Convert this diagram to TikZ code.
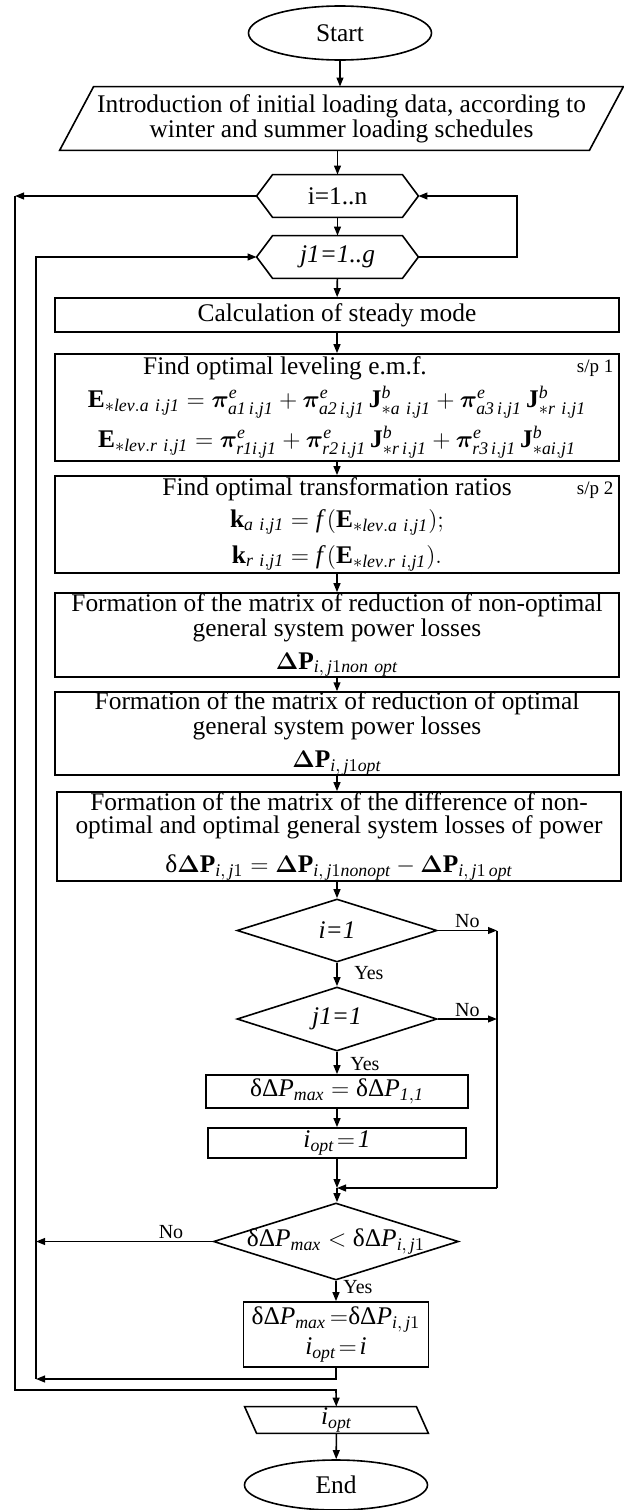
\documentclass[tikz,border=0pt]{standalone}
\usepackage{amsmath}
\usepackage{bm}
\usepackage{fontspec}
\setmainfont{Liberation Serif}
\usetikzlibrary{shapes.geometric,arrows.meta,calc}
\tikzset{
  flow/.style={line width=0.8pt},
  flowarrow/.style={flow, -{Triangle[length=4.5pt,width=3.4pt]}},
  txt/.style={font=\fontsize{12.7}{11.3}\selectfont},
  blank/.style={txt, align=center, inner sep=0pt},
  block/.style={draw, flow, txt, align=center, inner sep=0pt},
  terminal/.style={draw, flow, ellipse, txt, inner sep=0pt, minimum width=91.5pt, minimum height=27pt},
  decision/.style={draw, flow, diamond, txt, inner sep=0pt, aspect=3.2},
  answer/.style={font=\fontsize{10}{12}\selectfont, inner sep=1pt},
  splabel/.style={font=\fontsize{9.5}{11}\selectfont, inner sep=3pt}
}
\def\loopnode(#1,#2,#3,#4){
  \node[blank, minimum width=80.5pt, minimum height=21pt] (#1) at (#2,#3) {#4};
  \draw[flow] (#1.west) -- ([xshift=8pt]#1.north west) -- ([xshift=-8pt]#1.north east)
    -- (#1.east) -- ([xshift=-8pt]#1.south east) -- ([xshift=8pt]#1.south west) -- cycle;
}
\def\datanode(#1,#2,#3,#4,#5,#6,#7){
  \node[blank, minimum width=#4, minimum height=#5] (#1) at (#2,#3) {#7};
  \draw[flow] (#1.south west) -- ([xshift=#6]#1.north west) -- (#1.north east)
    -- ([xshift=-#6]#1.south east) -- cycle;
}
\def\dP{\text{δΔ}\mathit{P}}
\begin{document}
\begin{tikzpicture}[x=0.5pt, y=-0.5pt]
\useasboundingbox (0,0) rectangle (624,1510);
\node[terminal] (start) at (340,33) {Start};
\datanode(input,341.5,118.5,281.5pt,31.5pt,17pt,{Introduction of initial loading data, according to\\ winter and summer loading schedules})
\loopnode(iloop,337.5,196,i=1..n)
\loopnode(jloop,337.5,257,\textit{j1=1..g})
\node[block, minimum width=282pt, minimum height=17pt] (calc) at (337,315) {Calculation of steady mode};
\node[block, minimum width=282pt, minimum height=53.5pt] (emf) at (337,407.5) {Find optimal leveling e.m.f.\hspace*{52pt}\\[2pt]
  $\mathbf{E}_{*\mathit{lev.a\ i,j1}} = \bm{\pi}^{\mathit{e}}_{\mathit{a1\,i,j1}} + \bm{\pi}^{\mathit{e}}_{\mathit{a2\,i,j1}}\,\mathbf{J}^{\mathit{b}}_{*\mathit{a\ i,j1}} + \bm{\pi}^{\mathit{e}}_{\mathit{a3\,i,j1}}\,\mathbf{J}^{\mathit{b}}_{*\mathit{r\ i,j1}}$\\[3pt]
  $\mathbf{E}_{*\mathit{lev.r\ i,j1}} = \bm{\pi}^{\mathit{e}}_{\mathit{r1i,j1}} + \bm{\pi}^{\mathit{e}}_{\mathit{r2\,i,j1}}\,\mathbf{J}^{\mathit{b}}_{*\mathit{r\,i,j1}} + \bm{\pi}^{\mathit{e}}_{\mathit{r3\,i,j1}}\,\mathbf{J}^{\mathit{b}}_{*\mathit{ai,j1}}$};
\node[splabel, anchor=north east] (sp1) at (emf.north east) {s/p 1};
\node[block, minimum width=282pt, minimum height=48.5pt] (ratio) at (337,524.5) {Find optimal transformation ratios\\[3pt]
  $\mathbf{k}_{\mathit{a\ i,j1}} = \mathit{f}\,(\mathbf{E}_{*\mathit{lev.a\ i,j1}});$\\[4pt]
  $\mathbf{k}_{\mathit{r\ i,j1}} = \mathit{f}\,(\mathbf{E}_{*\mathit{lev.r\ i,j1}}).$};
\node[splabel, anchor=north east] (sp2) at (ratio.north east) {s/p 2};
\node[block, minimum width=282pt, minimum height=42pt] (nonopt) at (337,635) {Formation of the matrix of reduction of non-optimal\\ general system power losses\\[5pt]
  $\bm{\Delta}\mathbf{P}_{\mathit{i},\,\mathit{j}1\mathit{non\ opt}}$};
\node[block, minimum width=282pt, minimum height=39.5pt] (opt) at (337,733.5) {Formation of the matrix of reduction of optimal\\ general system power losses\\[5pt]
  $\bm{\Delta}\mathbf{P}_{\mathit{i},\,\mathit{j}1\mathit{opt}}$};
\node[block, minimum width=282pt, minimum height=44.5pt] (diff) at (339,836.5) {Formation of the matrix of the difference of non-\\ optimal and optimal general system losses of power\\[7pt]
  $\text{δ}\bm{\Delta}\mathbf{P}_{\mathit{i},\,\mathit{j}1} = \bm{\Delta}\mathbf{P}_{\mathit{i},\,\mathit{j}1\mathit{nonopt}} - \bm{\Delta}\mathbf{P}_{\mathit{i},\,\mathit{j}1\,\mathit{opt}}$};
\node[decision, minimum width=100pt, minimum height=31.5pt] (d1) at (337,930.5) {\textit{i=1}};
\node[decision, minimum width=100pt, minimum height=32pt] (d2) at (337,1019) {\textit{j1=1}};
\node[block, minimum width=131pt, minimum height=16.5pt] (setmax) at (337,1091.5) {$\dP_{\mathit{max}} = \dP_{\mathit{1,1}}$};
\node[block, minimum width=129pt, minimum height=15pt] (setopt) at (337,1143) {$\mathit{i}_{\mathit{opt}}\!=\!\mathit{1}$};
\node[decision, minimum width=122.5pt, minimum height=38.5pt] (d3) at (336,1241.5) {\makebox[0pt]{$\dP_{\mathit{max}} < \dP_{\mathit{i},\,\mathit{j}1}$}};
\node[block, minimum width=92.5pt, minimum height=32.5pt] (update) at (336,1334.5) {$\dP_{\mathit{max}}\,{=}\dP_{\mathit{i},\,\mathit{j}1}$\\[2pt] $\mathit{i}_{\mathit{opt}}\!=\!\mathit{i}$};
\node[blank, minimum width=91.5pt, minimum height=13pt] (out) at (336.5,1420) {$\mathit{i}_{\mathit{opt}}$};
\draw[flow] (out.north west) -- ([xshift=-6pt]out.north east) -- (out.south east) -- ([xshift=6pt]out.south west) -- cycle;
\node[terminal, minimum height=25pt] (stop) at (336,1485) {End};
% helper points of the loops
\coordinate (iout) at (15,196);
\coordinate (iexit) at (336,1390);
\coordinate (jret) at (36,1379);
\coordinate (jnext) at (517,257);
\coordinate (nojoin) at (497,1188);
\coordinate (merge) at (337,1188);
% main column
\draw[flowarrow] (start) -- (start |- input.north);
\draw[flowarrow] (input.south -| iloop) -- (iloop);
\draw[flowarrow] (iloop) -- (jloop);
\draw[flowarrow] (jloop) -- (calc);
\draw[flowarrow] (calc) -- (emf);
\draw[flowarrow] (emf) -- (ratio);
\draw[flowarrow] (ratio) -- (nonopt);
\draw[flowarrow] (nonopt) -- (opt);
\draw[flowarrow] (opt.south) -- (opt.south |- diff.north);
\draw[flowarrow] (diff.south -| d1) -- (d1);
\draw[flowarrow] (d1) -- (d2);
\draw[flowarrow] (d2) -- (setmax);
\draw[flowarrow] (setmax) -- (setopt);
\draw[flowarrow] (setopt) -- (merge);
\draw[flowarrow] (merge) -- (d3.north -| merge);
\draw[flowarrow] (d3) -- (update);
\draw[flowarrow] (out) -- (stop);
\node[answer, anchor=west] (yes1) at ($(d1.south)+(15,10)$) {Yes};
\node[answer, anchor=west] (yes2) at ($(d2.south)+(11,12)$) {Yes};
\node[answer, anchor=west] (yes3) at ($(d3.south)+(5,6)$) {Yes};
% "No" branches
\draw[flowarrow] (d1.east) -- (d1.east -| nojoin);
\draw[flowarrow] (d2.east) -- (d2.east -| nojoin);
\draw[flow] (d1.east -| nojoin) -- (nojoin);
\draw[flowarrow] (nojoin) -- (merge);
\node[answer, anchor=south] (no1) at ($(d1.east)!0.5!(d1.east -| nojoin)$) {No};
\node[answer, anchor=south] (no2) at ($(d2.east)!0.5!(d2.east -| nojoin)$) {No};
\draw[flowarrow] (d3.west) -- (d3.west -| jret);
\node[answer, anchor=south] (no3) at (171,1241.5) {No};
% loops
\draw[flowarrow] (update) |- (jret);
\draw[flowarrow] (jret) |- (jloop.west);
\draw[flowarrow] (jloop.east) -- (jnext) |- (iloop.east);
\draw[flowarrow] (iloop.west) -- (iout);
\draw[flowarrow] (iout) |- (iexit) -- (out);
\end{tikzpicture}
\end{document}
